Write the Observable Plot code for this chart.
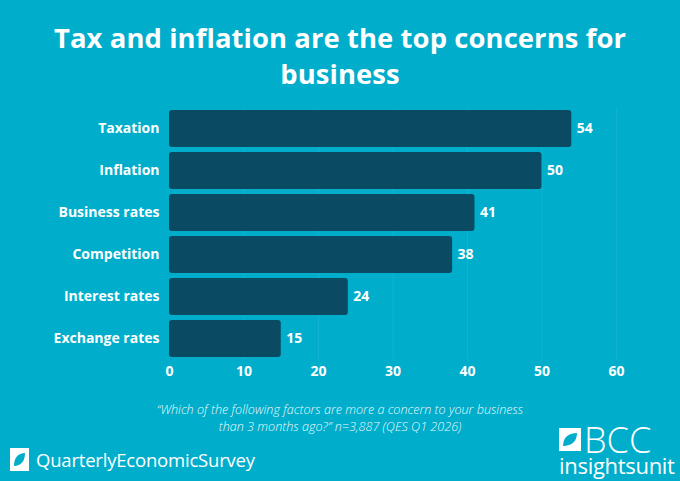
<!DOCTYPE html>
<html>
<head>
<meta charset="utf-8">
<script src="https://cdn.jsdelivr.net/npm/d3@7"></script>
<script src="https://cdn.jsdelivr.net/npm/@observablehq/plot@0.6"></script>
<style>
  html, body { margin: 0; padding: 0; }
  body { width: 680px; height: 481px; background: #00AECC; position: relative; overflow: hidden; font-family: "Open Sans", sans-serif; color: #fff; }
  #title { position: absolute; left: 0; top: 20px; width: 680px; text-align: center; font-size: 27.4px; font-weight: 700; line-height: 36px; letter-spacing: 0.1px; }
  #chart { position: absolute; left: 0; top: 100px; }
  #note { position: absolute; left: 0; top: 401px; width: 680px; text-align: center; font-size: 12.6px; font-style: italic; font-weight: 300; line-height: 17px; color: rgba(255,255,255,0.95); }
  #qes { position: absolute; left: 10px; top: 447px; display: flex; align-items: center; }
  #qes span { font-size: 18.5px; font-weight: 400; margin-left: 7px; letter-spacing: -0.2px; }
  #bcc { position: absolute; left: 559px; top: 426px; }
  #bcc .top { display: flex; align-items: center; height: 27px; }
  #bcc .big { font-size: 36px; font-weight: 300; line-height: 27px; margin-left: 3px; letter-spacing: 0px; }
  #bcc .small { font-size: 22px; font-weight: 400; line-height: 22px; margin-top: 1px; letter-spacing: -0.3px; }
</style>
</head>
<body>
<div id="title">Tax and inflation are the top concerns for<br>business</div>
<div id="chart"></div>
<div id="note">“Which of the following factors are more a concern to your business<br>than 3 months ago?” n=3,887 (QES Q1 2026)</div>
<div id="qes">
  <svg width="19" height="23" viewBox="0 0 19 23"><rect x="0" y="0" width="19" height="23" fill="#fff"/><path d="M4,18 C4,10 8,5 15,5 C15,13 11,18 4,18 Z" fill="#00AECC"/></svg>
  <span>QuarterlyEconomicSurvey</span>
</div>
<div id="bcc">
  <div class="top">
    <svg width="22" height="23" viewBox="0 0 22 23"><rect x="0" y="0" width="22" height="23" fill="#fff"/><path d="M4,18 C4,10 9,5 18,5 C18,13 13,18 4,18 Z" fill="#00AECC"/></svg>
    <span class="big">BCC</span>
  </div>
  <div class="small">insightsunit</div>
</div>
<script>
const categories = ["Taxation", "Inflation", "Business rates", "Competition", "Interest rates", "Exchange rates"];
const values = [54, 50, 41, 38, 24, 15];
const xTicks = [0, 10, 20, 30, 40, 50, 60];
const gridTicks = [10, 20, 30, 40, 50, 60];

const data = categories.map((c, i) => ({category: c, value: values[i]}));

const chart = Plot.plot({
  width: 680,
  height: 285,
  marginLeft: 169,
  marginRight: 64,
  marginTop: 8,
  marginBottom: 26,
  style: { background: "transparent", color: "#fff", fontFamily: "Open Sans, sans-serif" },
  x: { domain: [0, 60], ticks: xTicks, label: null },
  y: { domain: categories, label: null, paddingInner: 0.11, paddingOuter: 0 },
  marks: [
    Plot.ruleX(gridTicks, { stroke: "#fff", strokeOpacity: 0.07 }),
    Plot.axisX({ ticks: xTicks, tickSize: 0, tickPadding: 7, fontSize: 14, fontWeight: 700, fill: "#fff", label: null }),
    Plot.axisY({ tickSize: 0, tickPadding: 10, fontSize: 14, fontWeight: 700, fill: "#fff", label: null }),
    Plot.barX(data, { x: "value", y: "category", fill: "#0A4A63", rx: 3 }),
    Plot.text(data, { x: "value", y: "category", text: d => String(d.value), textAnchor: "start", dx: 5, fill: "#fff", fontSize: 14, fontWeight: 700 })
  ]
});
document.getElementById("chart").appendChild(chart);
</script>
</body>
</html>
